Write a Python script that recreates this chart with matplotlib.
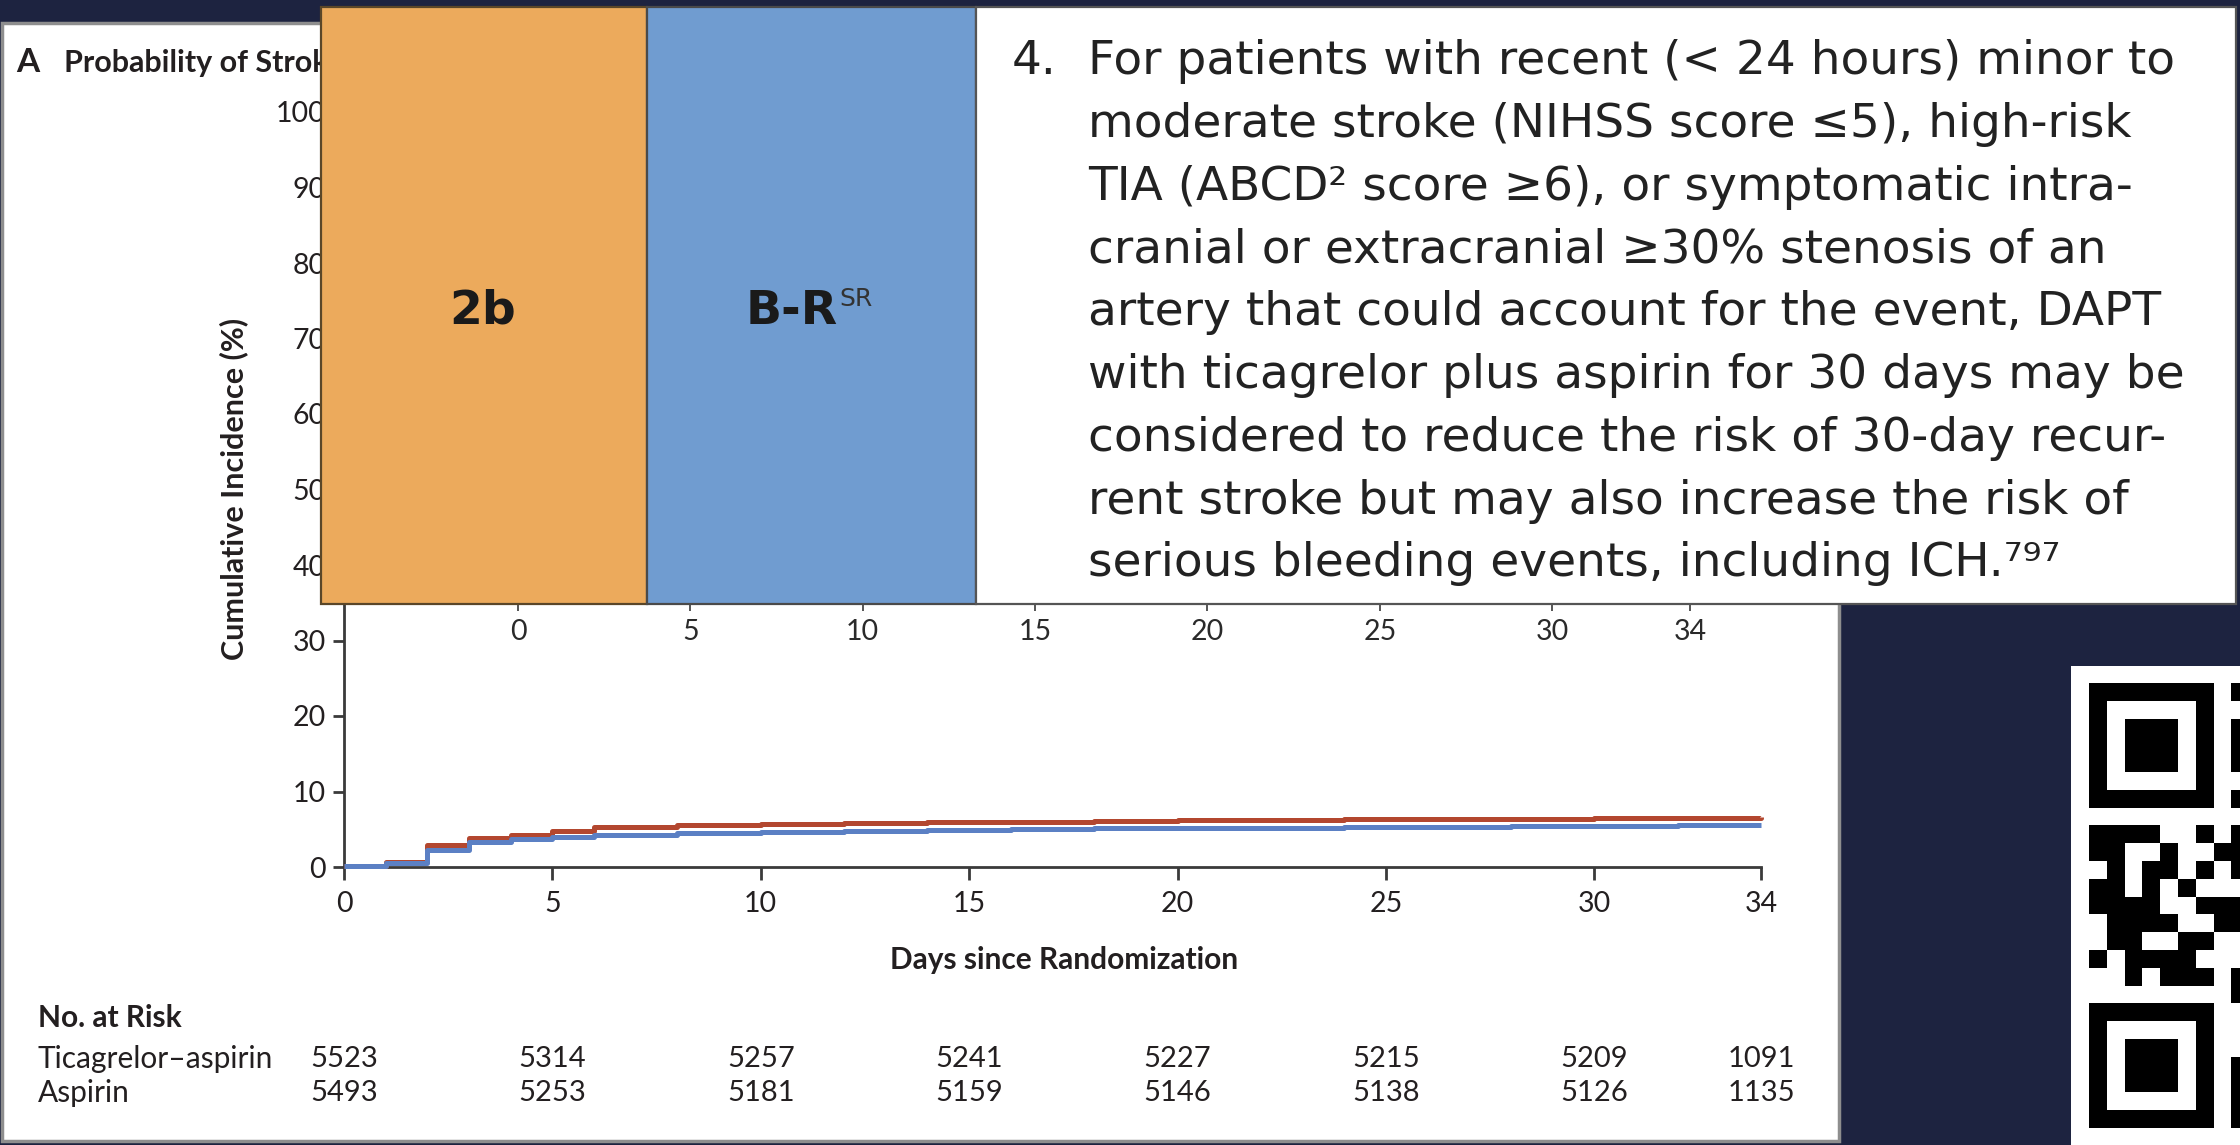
import matplotlib
matplotlib.use("Agg")
import matplotlib.pyplot as plt
from matplotlib.patches import Rectangle
from matplotlib.transforms import blended_transform_factory
import numpy as np

plt.rcParams["font.family"] = ["Lato", "DejaVu Sans"]

W, H = 2240, 1145
NAVY = "#1d2340"
INK = "#231f20"
RED = "#b3472f"
BLUE = "#5b80c4"

# Cumulative incidence of stroke (%) by day since randomization
days = [0, 1, 2, 3, 4, 5, 6, 8, 10, 12, 14, 16, 18, 20, 22, 24, 26, 28, 30, 32, 34]
aspirin = [0.1, 0.6, 2.9, 3.8, 4.2, 4.8, 5.3, 5.5, 5.7, 5.8, 5.9, 6.0, 6.1, 6.2,
           6.2, 6.3, 6.3, 6.4, 6.5, 6.5, 6.6]
ticagrelor_aspirin = [0.1, 0.5, 2.2, 3.3, 3.7, 4.0, 4.2, 4.5, 4.7, 4.8, 4.9, 5.0,
                      5.1, 5.1, 5.2, 5.3, 5.3, 5.4, 5.4, 5.5, 5.5]

x_ticks = [0, 5, 10, 15, 20, 25, 30, 34]
y_ticks = [0, 10, 20, 30, 40, 50, 60, 70, 80, 90, 100]

# Number at risk table
risk_groups = ["Ticagrelor–aspirin", "Aspirin"]
risk_ticagrelor_aspirin = [5523, 5314, 5257, 5241, 5227, 5215, 5209, 1091]
risk_aspirin = [5493, 5253, 5181, 5159, 5146, 5138, 5126, 1135]

# Guideline recommendation panel
class_label = "2b"
evidence_label = "B-R"
evidence_sup = "SR"
rec_number = "4."
rec_lines = [
    "For patients with recent (< 24 hours) minor to",
    "moderate stroke (NIHSS score ≤5), high-risk",
    "TIA (ABCD² score ≥6), or symptomatic intra-",
    "cranial or extracranial ≥30% stenosis of an",
    "artery that could account for the event, DAPT",
    "with ticagrelor plus aspirin for 30 days may be",
    "considered to reduce the risk of 30-day recur-",
    "rent stroke but may also increase the risk of",
    "serious bleeding events, including ICH.⁷⁹⁷",
]

# QR code modules (visible left part), 1 = dark
qr_modules = np.array([
    [1, 1, 1, 1, 1, 1, 1, 0, 1],
    [1, 0, 0, 0, 0, 0, 1, 0, 0],
    [1, 0, 1, 1, 1, 0, 1, 0, 1],
    [1, 0, 1, 1, 1, 0, 1, 0, 1],
    [1, 0, 1, 1, 1, 0, 1, 0, 1],
    [1, 0, 0, 0, 0, 0, 1, 0, 0],
    [1, 1, 1, 1, 1, 1, 1, 0, 1],
    [0, 0, 0, 0, 0, 0, 0, 0, 0],
    [1, 1, 1, 1, 0, 0, 1, 0, 1],
    [1, 1, 0, 0, 1, 0, 0, 1, 1],
    [0, 1, 0, 1, 1, 0, 1, 0, 1],
    [1, 1, 0, 1, 0, 1, 0, 0, 0],
    [1, 1, 1, 1, 0, 0, 1, 1, 1],
    [0, 1, 1, 1, 1, 0, 0, 1, 1],
    [0, 1, 1, 0, 0, 1, 1, 0, 0],
    [1, 0, 1, 1, 1, 1, 0, 0, 0],
    [0, 0, 1, 0, 1, 1, 1, 0, 1],
    [0, 0, 0, 0, 0, 0, 0, 0, 1],
    [1, 1, 1, 1, 1, 1, 1, 0, 0],
    [1, 0, 0, 0, 0, 0, 1, 0, 0],
    [1, 0, 1, 1, 1, 0, 1, 0, 0],
    [1, 0, 1, 1, 1, 0, 1, 0, 1],
    [1, 0, 1, 1, 1, 0, 1, 0, 1],
    [1, 0, 0, 0, 0, 0, 1, 0, 1],
    [1, 1, 1, 1, 1, 1, 1, 0, 1],
])


def frac_box(x0, y0, x1, y1):
    """Pixel box (top-left origin) -> figure fraction rect."""
    return [x0 / W, 1 - y1 / H, (x1 - x0) / W, (y1 - y0) / H]


fig = plt.figure(figsize=(W / 100, H / 100), dpi=100, facecolor=NAVY)

# ---- background layer: white figure panel, title and risk table ----
bg = fig.add_axes([0, 0, 1, 1], zorder=0)
bg.set_xlim(0, W)
bg.set_ylim(H, 0)
bg.axis("off")
bg.add_patch(Rectangle((1.5, 23), 1837, 1118, facecolor="white",
                       edgecolor="#8e8e8e", lw=2.5))
bg.text(16, 62, "A", fontsize=24, fontweight="bold", color=INK, va="center")
bg.text(64, 63, "Probability of Stroke", fontsize=22, fontweight="bold",
        color=INK, va="center")
bg.text(234, 489, "Cumulative Incidence (%)", fontsize=22, fontweight="bold",
        color=INK, rotation=90, ha="center", va="center")
bg.text(1064, 960, "Days since Randomization", fontsize=21.5,
        fontweight="bold", color=INK, ha="center", va="center")

# ---- main cumulative incidence plot ----
ax = fig.add_axes(frac_box(344, 112, 1761, 867), zorder=2)
ax.set_facecolor("none")
ax.step(days, aspirin, where="post", color=RED, lw=3.6, clip_on=False,
        solid_capstyle="butt", zorder=3)
ax.step(days, ticagrelor_aspirin, where="post", color=BLUE, lw=3.6,
        clip_on=False, solid_capstyle="butt", zorder=4)
ax.set_xlim(0, 34)
ax.set_ylim(0, 100)
ax.set_xticks(x_ticks)
ax.set_yticks(y_ticks)
for side in ("top", "right"):
    ax.spines[side].set_visible(False)
for side in ("left", "bottom"):
    ax.spines[side].set_linewidth(2.0)
    ax.spines[side].set_color("#3a3a3a")
ax.tick_params(axis="both", direction="out", width=2.0, color="#3a3a3a",
               labelsize=20.5, labelcolor=INK)
ax.tick_params(axis="x", length=9, pad=8)
ax.tick_params(axis="y", length=8, pad=5)

# number-at-risk table aligned to the day ticks
tr = blended_transform_factory(ax.transData, bg.transData)
bg.text(38, 1018, "No. at Risk", fontsize=21.5, fontweight="bold", color=INK,
        va="center")
for label, counts, ypix in zip(risk_groups,
                               [risk_ticagrelor_aspirin, risk_aspirin],
                               [1059, 1093]):
    bg.text(38, ypix, label, fontsize=21.5, color=INK, va="center")
    for d, n in zip(x_ticks, counts):
        bg.text(d, ypix, f"{n}", fontsize=21, color=INK, va="center",
                ha="center", transform=tr)

# ---- secondary day axis peeking below the recommendation banner ----
ax2 = fig.add_axes(frac_box(518, 603, 1690, 604), zorder=3)
ax2.set_facecolor("none")
ax2.set_xlim(0, 34)
ax2.set_xticks(x_ticks)
ax2.set_yticks([])
for s in ax2.spines.values():
    s.set_visible(False)
ax2.tick_params(axis="x", direction="out", length=5, width=1.4,
                color="#555555", labelsize=20.5, labelcolor="#2a2a2a", pad=6)

# ---- recommendation banner ----
ov = fig.add_axes([0, 0, 1, 1], zorder=4)
ov.set_xlim(0, W)
ov.set_ylim(H, 0)
ov.axis("off")
ov.set_facecolor("none")
ov.add_patch(Rectangle((321, 7), 326, 597, facecolor="#ecaa5c",
                       edgecolor="#5a4628", lw=1.6))
ov.add_patch(Rectangle((647, 7), 329, 597, facecolor="#709cd0",
                       edgecolor="#4a4a4a", lw=1.6))
ov.add_patch(Rectangle((976, 7), 1260, 597, facecolor="white",
                       edgecolor="#555555", lw=1.6))
ov.text(483, 311, class_label, fontsize=34, fontweight="bold",
        family="DejaVu Sans", color="#1a1a1a", ha="center", va="center")
ov.text(838, 311, evidence_label, fontsize=34, fontweight="bold",
        family="DejaVu Sans", color="#1a1a1a", ha="right", va="center")
ov.text(839, 299, evidence_sup, fontsize=18, family="DejaVu Sans",
        color="#333333", ha="left", va="center")

ov.text(1012, 74, rec_number, fontsize=33.8, family="DejaVu Sans",
        color="#222222", ha="left", va="baseline")
for i, line in enumerate(rec_lines):
    ov.text(1088, 74 + i * 62.8, line, fontsize=33.8, family="DejaVu Sans",
            color="#222222", ha="left", va="baseline")

# ---- QR code ----
ov.add_patch(Rectangle((2071, 666), W - 2071 + 5, H - 666 + 5,
                       facecolor="white", edgecolor="none"))
module = 17.8
qa = fig.add_axes(frac_box(2071, 666, W, H), zorder=5)
qa.imshow(qr_modules, cmap="gray_r", vmin=0, vmax=1, interpolation="nearest",
          extent=(0, qr_modules.shape[1], qr_modules.shape[0], 0))
qa.set_xlim((2071 - 2089) / module, (W - 2089) / module)
qa.set_ylim((H - 683) / module, (666 - 683) / module)
qa.set_aspect("auto")
qa.axis("off")

fig.savefig("out.png", dpi=100, facecolor=NAVY)
